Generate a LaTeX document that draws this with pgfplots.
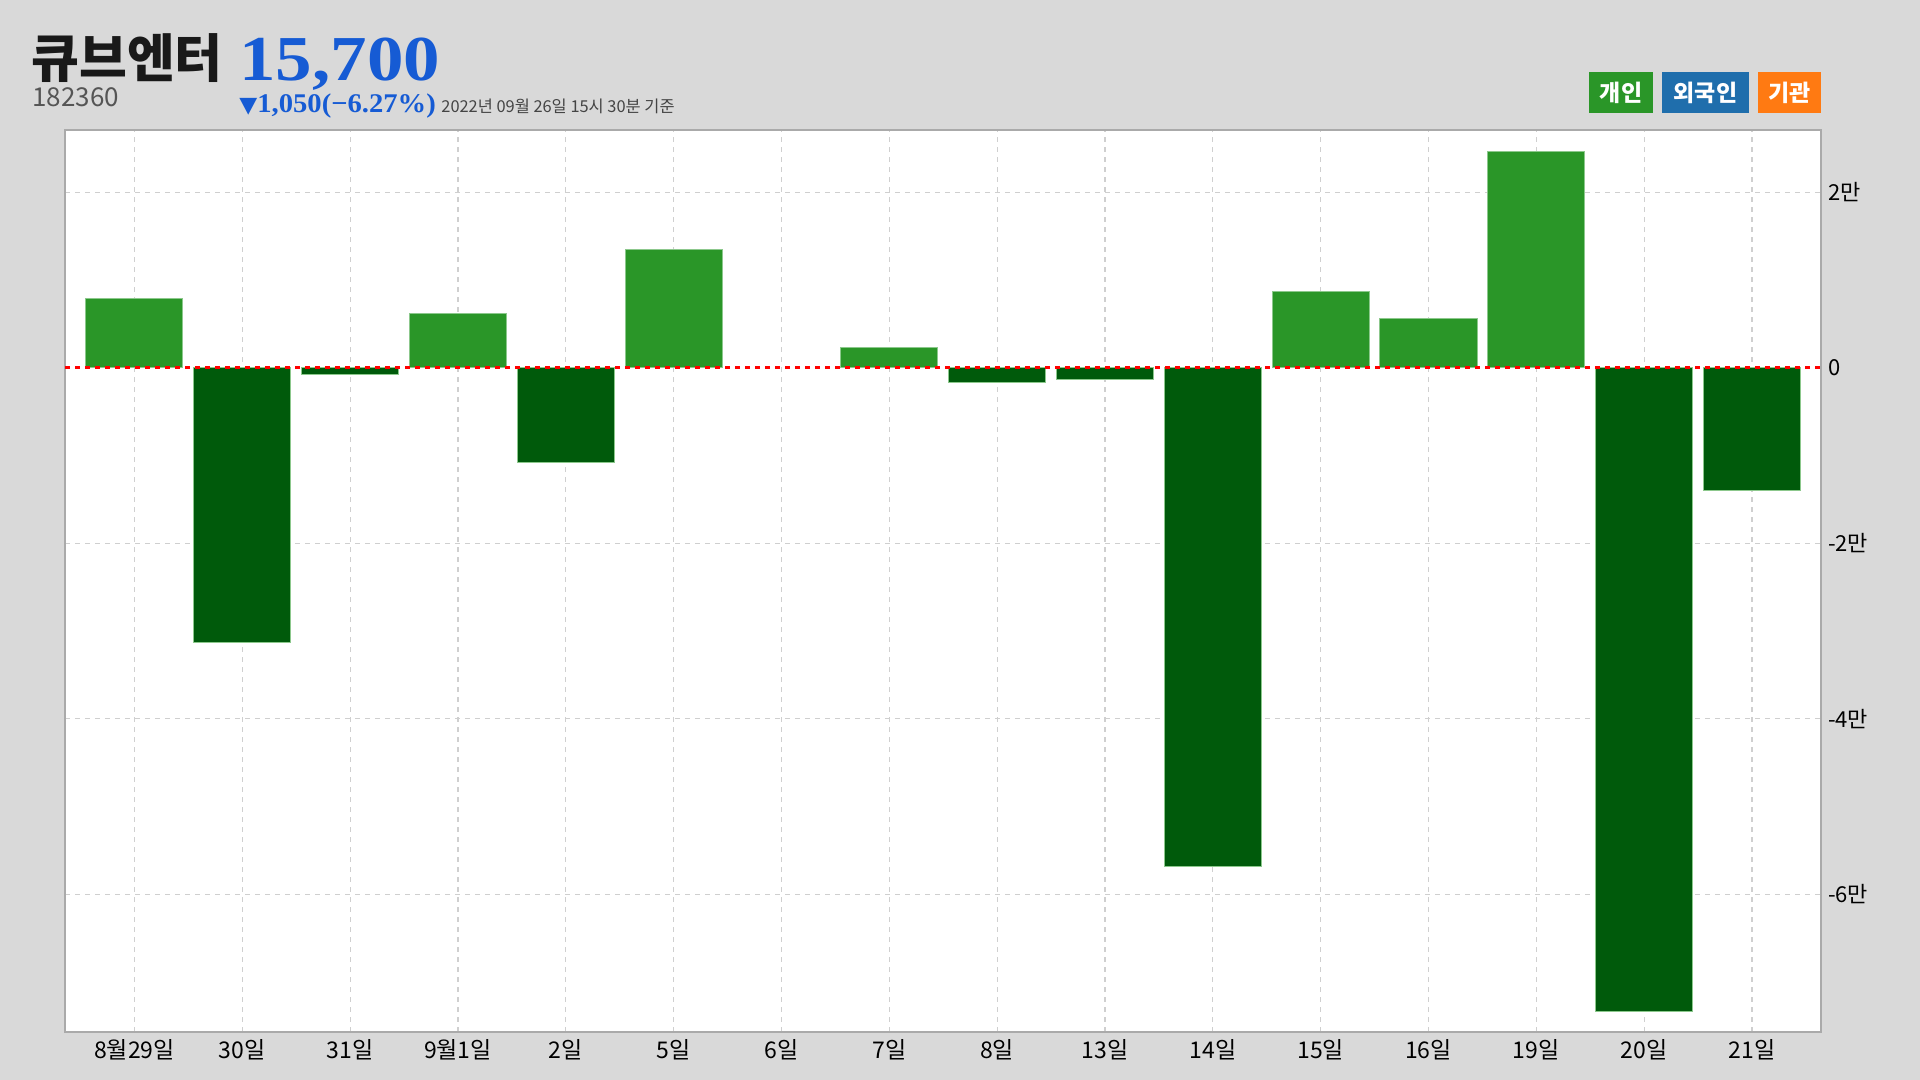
\documentclass[border=0pt]{standalone}
\usepackage{fontspec}
\usepackage{pgfplots}
\pgfplotsset{compat=1.18}
\setmainfont{Noto Sans CJK KR}
\newfontfamily\serifb{Liberation Serif}
\newfontfamily\dejavu{DejaVu Sans}
\definecolor{bg}{HTML}{D9D9D9}
\definecolor{posg}{HTML}{2A9628}
\definecolor{negg}{HTML}{005A0B}
\definecolor{edgeg}{HTML}{8CC88C}
\definecolor{axisgray}{HTML}{AAAAAA}
\definecolor{gridgray}{HTML}{CFCFCF}
\definecolor{titleblue}{HTML}{165BD4}
\definecolor{legblue}{HTML}{1F6EAC}
\definecolor{legorange}{HTML}{FF7A12}
\definecolor{codegray}{HTML}{555555}
\definecolor{dategray}{HTML}{444444}
\begin{document}
\begin{tikzpicture}[x=1pt,y=1pt]
\fill[bg] (0,0) rectangle (960,540);
\begin{axis}[
  at={(32.5pt,24pt)}, anchor=south west,
  scale only axis, width=878pt, height=451pt,
  xmin=-0.644, xmax=15.64, ymin=-75700, ymax=27090,
  axis background/.style={fill=white},
  axis line style={draw=axisgray, line width=1pt},
  xtick={0,...,15},
  xticklabels={8월29일,30일,31일,9월1일,2일,5일,6일,7일,8일,13일,14일,15일,16일,19일,20일,21일},
  ytick={-60000,-40000,-20000,0,20000},
  yticklabels={-6만,-4만,-2만,0,2만},
  yticklabel pos=right,
  major tick length=0pt,
  grid=major,
  grid style={gridgray, dash pattern=on 2.5pt off 2.5pt, line width=0.6pt},
  x tick label style={font=\fontsize{11.5}{12}\selectfont, text=black},
  y tick label style={font=\fontsize{11}{12}\selectfont, text=black},
  scaled y ticks=false,
]
\addplot[ybar, bar width=0.9, bar shift=0pt, fill=posg, draw=edgeg, line width=0.5pt]
  coordinates {(0,7850) (3,6200) (5,13450) (7,2300) (11,8720) (12,5650) (13,24600)};
\addplot[ybar, bar width=0.9, bar shift=0pt, fill=negg, draw=edgeg, line width=0.5pt]
  coordinates {(1,-31300) (2,-800) (4,-10800) (8,-1740) (9,-1320) (10,-56800) (14,-73400) (15,-14000)};
\addplot[red, line width=1.5pt, dash pattern=on 2.5pt off 2.5pt, forget plot]
  coordinates {(-0.644,0) (15.64,0)};
\end{axis}
\node[anchor=base west, inner sep=0, font=\fontsize{26}{26}\selectfont\bfseries, text=black!90] at (15.5,501) {큐브엔터};
\node[anchor=base west, inner sep=0, xscale=1.14, font=\serifb\bfseries\fontsize{32}{32}\selectfont, text=titleblue] at (119.5,499.5) {15,700};
\node[anchor=base west, inner sep=0, font=\fontsize{13}{13}\selectfont, text=codegray] at (16,486.5) {182360};
\node[anchor=base west, inner sep=0, xscale=1.06, font=\serifb\bfseries\fontsize{13.5}{13.5}\selectfont, text=titleblue] at (119.5,483.5) {{\dejavu\fontsize{11}{11}\selectfont ▼}1,050(−6.27\%)};
\node[anchor=base west, inner sep=0, font=\fontsize{8.2}{9}\selectfont, text=dategray] at (220.5,483.5) {2022년 09월 26일 15시 30분 기준};
\node[fill=posg, text=white, inner sep=0, minimum width=32pt, minimum height=20.5pt, font=\fontsize{11.5}{12}\selectfont\bfseries] at (810.5,493.75) {개인};
\node[fill=legblue, text=white, inner sep=0, minimum width=43.5pt, minimum height=20.5pt, font=\fontsize{11.5}{12}\selectfont\bfseries] at (852.75,493.75) {외국인};
\node[fill=legorange, text=white, inner sep=0, minimum width=31.5pt, minimum height=20.5pt, font=\fontsize{11.5}{12}\selectfont\bfseries] at (894.75,493.75) {기관};
\end{tikzpicture}
\end{document}
